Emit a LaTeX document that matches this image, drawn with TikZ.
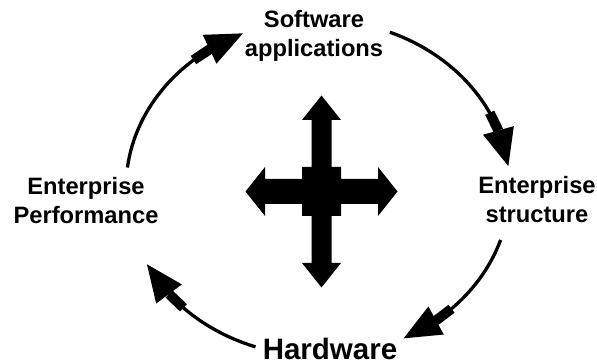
\documentclass[tikz,border=0pt]{standalone}
\usepackage{fontspec}
\setmainfont{Liberation Sans}
\usetikzlibrary{arrows.meta,bending}
\begin{document}
\begin{tikzpicture}[x=1pt,y=-1pt,
  lbl/.style={font=\bfseries\fontsize{23.7}{29}\selectfont, align=center, inner sep=0pt, anchor=base},
  cyc/.style={line width=3.3pt, -{Rectangle[length=20pt,width=10pt,sep=0pt,line width=0pt] Triangle[length=37pt,width=32pt,line width=0pt]}}]
\useasboundingbox (0,0) rectangle (597,363);
% labels (base anchor = baseline of the last line)
\node[lbl] (sw) at (314,57) {Software\\applications};
\node[lbl] (ep) at (86,224) {Enterprise\\Performance};
\node[lbl] (es) at (537,223) {Enterprise\\structure};
\node[lbl, font=\bfseries\fontsize{29.5}{35}\selectfont] (hw) at (330,359.5) {Hardware};
% cycle arcs
\coordinate (C) at (318,188);
\path (C) ++(-173:192 and 168) coordinate (a1);
\path (C) ++(-68:192 and 168) coordinate (a2);
\path (C) ++(18:192 and 168) coordinate (a3);
\path (C) ++(109:192 and 168) coordinate (a4);
\draw[cyc] (a1) arc[start angle=-173,end angle=-113,x radius=192,y radius=168];
\draw[cyc] (a2) arc[start angle=-68,end angle=-7.5,x radius=192,y radius=168];
\draw[cyc] (a3) arc[start angle=18,end angle=63.5,x radius=192,y radius=168];
\draw[cyc] (a4) arc[start angle=109,end angle=153,x radius=192,y radius=168];
% central four-way arrow
\fill[shift={(321.5,191.5)}] (0,-96) -- (19.5,-71.5) -- (10,-71.5) -- (10,-24.5) -- (19.5,-24.5) -- (19.5,-12.5) -- (56.5,-12.5) -- (56.5,-24.5) -- (76,0) -- (56.5,24.5) -- (56.5,12.5) -- (19.5,12.5) -- (19.5,24.5) -- (10,24.5) -- (10,71.5) -- (19.5,71.5) -- (0,96) -- (-19.5,71.5) -- (-10,71.5) -- (-10,24.5) -- (-19.5,24.5) -- (-19.5,12.5) -- (-56.5,12.5) -- (-56.5,24.5) -- (-76,0) -- (-56.5,-24.5) -- (-56.5,-12.5) -- (-19.5,-12.5) -- (-19.5,-24.5) -- (-10,-24.5) -- (-10,-71.5) -- (-19.5,-71.5) -- cycle;
\end{tikzpicture}
\end{document}
